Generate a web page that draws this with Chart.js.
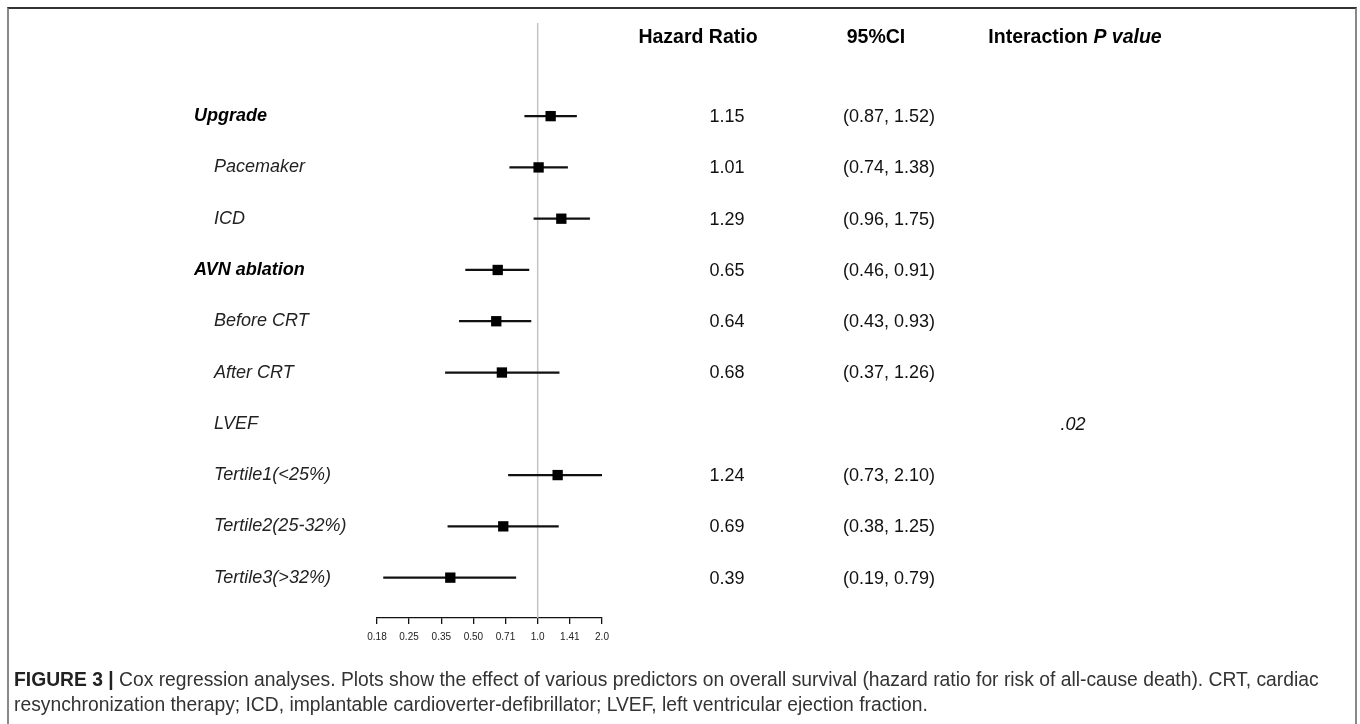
<!DOCTYPE html>
<html>
<head>
<meta charset="utf-8">
<script src="https://cdn.jsdelivr.net/npm/chart.js@4/dist/chart.umd.min.js"></script>
<style>
  html, body { margin: 0; padding: 0; background: #fff; }
  #wrap { position: relative; width: 1360px; height: 724px; overflow: hidden; }
  #frame { position: absolute; left: 7px; top: 7px; width: 1346px; height: 740px;
           border-top: 2px solid #333; border-left: 2px solid #888; border-right: 2px solid #888; }
  #caption { position: absolute; left: 14px; top: 667px; font: 19.3px "Liberation Sans", Arial, sans-serif;
             line-height: 25px; color: #333; white-space: nowrap; }
  #caption b { color: #222; }
  canvas { position: absolute; left: 0; top: 0; }
</style>
</head>
<body>
<div id="wrap">
  <div id="frame"></div>
  <canvas id="forest" width="1360" height="724"></canvas>
  <div id="caption"><b>FIGURE 3 |</b> Cox regression analyses. Plots show the effect of various predictors on overall survival (hazard ratio for risk of all-cause death). CRT, cardiac<br>resynchronization therapy; ICD, implantable cardioverter-defibrillator; LVEF, left ventricular ejection fraction.</div>
</div>
<script>
// rows of the forest plot, top to bottom
const rowLabels = ["Upgrade", "Pacemaker", "ICD", "AVN ablation", "Before CRT", "After CRT",
                   "LVEF", "Tertile1(<25%)", "Tertile2(25-32%)", "Tertile3(>32%)"];
const rowLevel = [0, 1, 1, 0, 1, 1, 1, 1, 1, 1];   // 0 = group heading, 1 = subgroup
const hazardRatio = [1.15, 1.01, 1.29, 0.65, 0.64, 0.68, null, 1.24, 0.69, 0.39];
const ciLow  = [0.87, 0.74, 0.96, 0.46, 0.43, 0.37, null, 0.73, 0.38, 0.19];
const ciHigh = [1.52, 1.38, 1.75, 0.91, 0.93, 1.26, null, 2.10, 1.25, 0.79];
const interactionP = ["", "", "", "", "", "", ".02", "", "", ""];

const xTicks = [0.177, 0.25, 0.354, 0.5, 0.707, 1, 1.414, 2];
const xTickLabels = ["0.18", "0.25", "0.35", "0.50", "0.71", "1.0", "1.41", "2.0"];

const FONT = '"Liberation Sans", Arial, Helvetica, sans-serif';
const Y_MIN = -1.816;
const Y_MAX = 9.787;

const ciData = [];
const pointData = [];
rowLabels.forEach(function (_, i) {
    if (hazardRatio[i] === null) return;
    ciData.push({ x: [ciLow[i], ciHigh[i]], y: i });
    pointData.push({ x: hazardRatio[i], y: i });
});

const fmt = v => v.toFixed(2);

// hazard ratio / CI / p value columns, plus headers
const tableText = {
    id: "tableText",
    afterDraw(chart) {
        const ctx = chart.ctx;
        const y = chart.scales.y;
        ctx.save();
        ctx.textBaseline = "middle";
        ctx.textAlign = "center";
        ctx.fillStyle = "#000";
        ctx.font = "bold 19.5px " + FONT;
        ctx.fillText("Hazard Ratio", 698, 38);
        ctx.fillText("95%CI", 876, 38);

        // "Interaction P value" with the P value part in italics
        const a = "Interaction ";
        const b = "P value";
        ctx.font = "bold 19.5px " + FONT;
        const wa = ctx.measureText(a).width;
        ctx.font = "italic bold 19.5px " + FONT;
        const wb = ctx.measureText(b).width;
        let x0 = 1075 - (wa + wb) / 2;
        ctx.textAlign = "left";
        ctx.font = "bold 19.5px " + FONT;
        ctx.fillText(a, x0, 38);
        ctx.font = "italic bold 19.5px " + FONT;
        ctx.fillText(b, x0 + wa, 38);

        ctx.textAlign = "center";
        ctx.fillStyle = "#111";
        rowLabels.forEach(function (_, i) {
            const py = y.getPixelForValue(i) + 1;
            if (hazardRatio[i] !== null) {
                ctx.font = "18px " + FONT;
                ctx.fillText(fmt(hazardRatio[i]), 727, py);
                ctx.fillText("(" + fmt(ciLow[i]) + ", " + fmt(ciHigh[i]) + ")", 889, py);
            }
            if (interactionP[i]) {
                ctx.font = "italic 18px " + FONT;
                ctx.fillText(interactionP[i], 1073, py);
            }
        });
        ctx.restore();
    }
};

new Chart(document.getElementById("forest"), {
    type: "scatter",
    data: {
        datasets: [
            {
                type: "line",
                data: [{ x: 1, y: Y_MIN }, { x: 1, y: Y_MAX }],
                borderColor: "#c4c4c4",
                borderWidth: 1.5,
                pointRadius: 0,
                order: 3
            },
            {
                type: "bar",
                indexAxis: "y",
                data: ciData,
                backgroundColor: "#111",
                barThickness: 1.6,
                order: 2
            },
            {
                type: "scatter",
                data: pointData,
                pointStyle: "rect",
                pointRadius: 7.3,
                pointBackgroundColor: "#000",
                pointBorderWidth: 0,
                order: 1
            }
        ]
    },
    options: {
        responsive: false,
        animation: false,
        layout: { padding: { left: 194, right: 758, top: 23, bottom: 76 } },
        plugins: {
            legend: { display: false },
            tooltip: { enabled: false }
        },
        scales: {
            x: {
                type: "logarithmic",
                min: xTicks[0],
                max: xTicks[xTicks.length - 1],
                bounds: "data",
                afterBuildTicks: function (scale) {
                    scale.ticks = xTicks.map(v => ({ value: v }));
                },
                afterFit: function (scale) { scale.height = 30; },
                grid: { drawOnChartArea: false, drawTicks: true, tickLength: 6, color: "#111", lineWidth: 1.3 },
                border: { display: true, color: "#111", width: 1.3 },
                ticks: {
                    autoSkip: false,
                    maxRotation: 0,
                    padding: 7,
                    color: "#222",
                    font: { family: FONT, size: 10 },
                    callback: (v, i) => xTickLabels[i]
                }
            },
            y: {
                type: "linear",
                reverse: true,
                min: Y_MIN,
                max: Y_MAX,
                bounds: "data",
                offset: false,
                afterBuildTicks: function (scale) {
                    scale.ticks = rowLabels.map((_, i) => ({ value: i }));
                },
                afterFit: function (scale) { scale.width = 183; },
                grid: { display: false },
                border: { display: false },
                ticks: {
                    autoSkip: false,
                    crossAlign: "far",
                    padding: 0,
                    color: ctx => rowLevel[ctx.index] ? "#222" : "#000",
                    font: ctx => rowLevel[ctx.index]
                        ? { family: FONT, size: 18, style: "italic" }
                        : { family: FONT, size: 18, style: "italic", weight: "bold" },
                    callback: (v, i) => (rowLevel[i] ? "    " : "") + rowLabels[i]
                }
            }
        }
    },
    plugins: [tableText]
});
</script>
</body>
</html>
